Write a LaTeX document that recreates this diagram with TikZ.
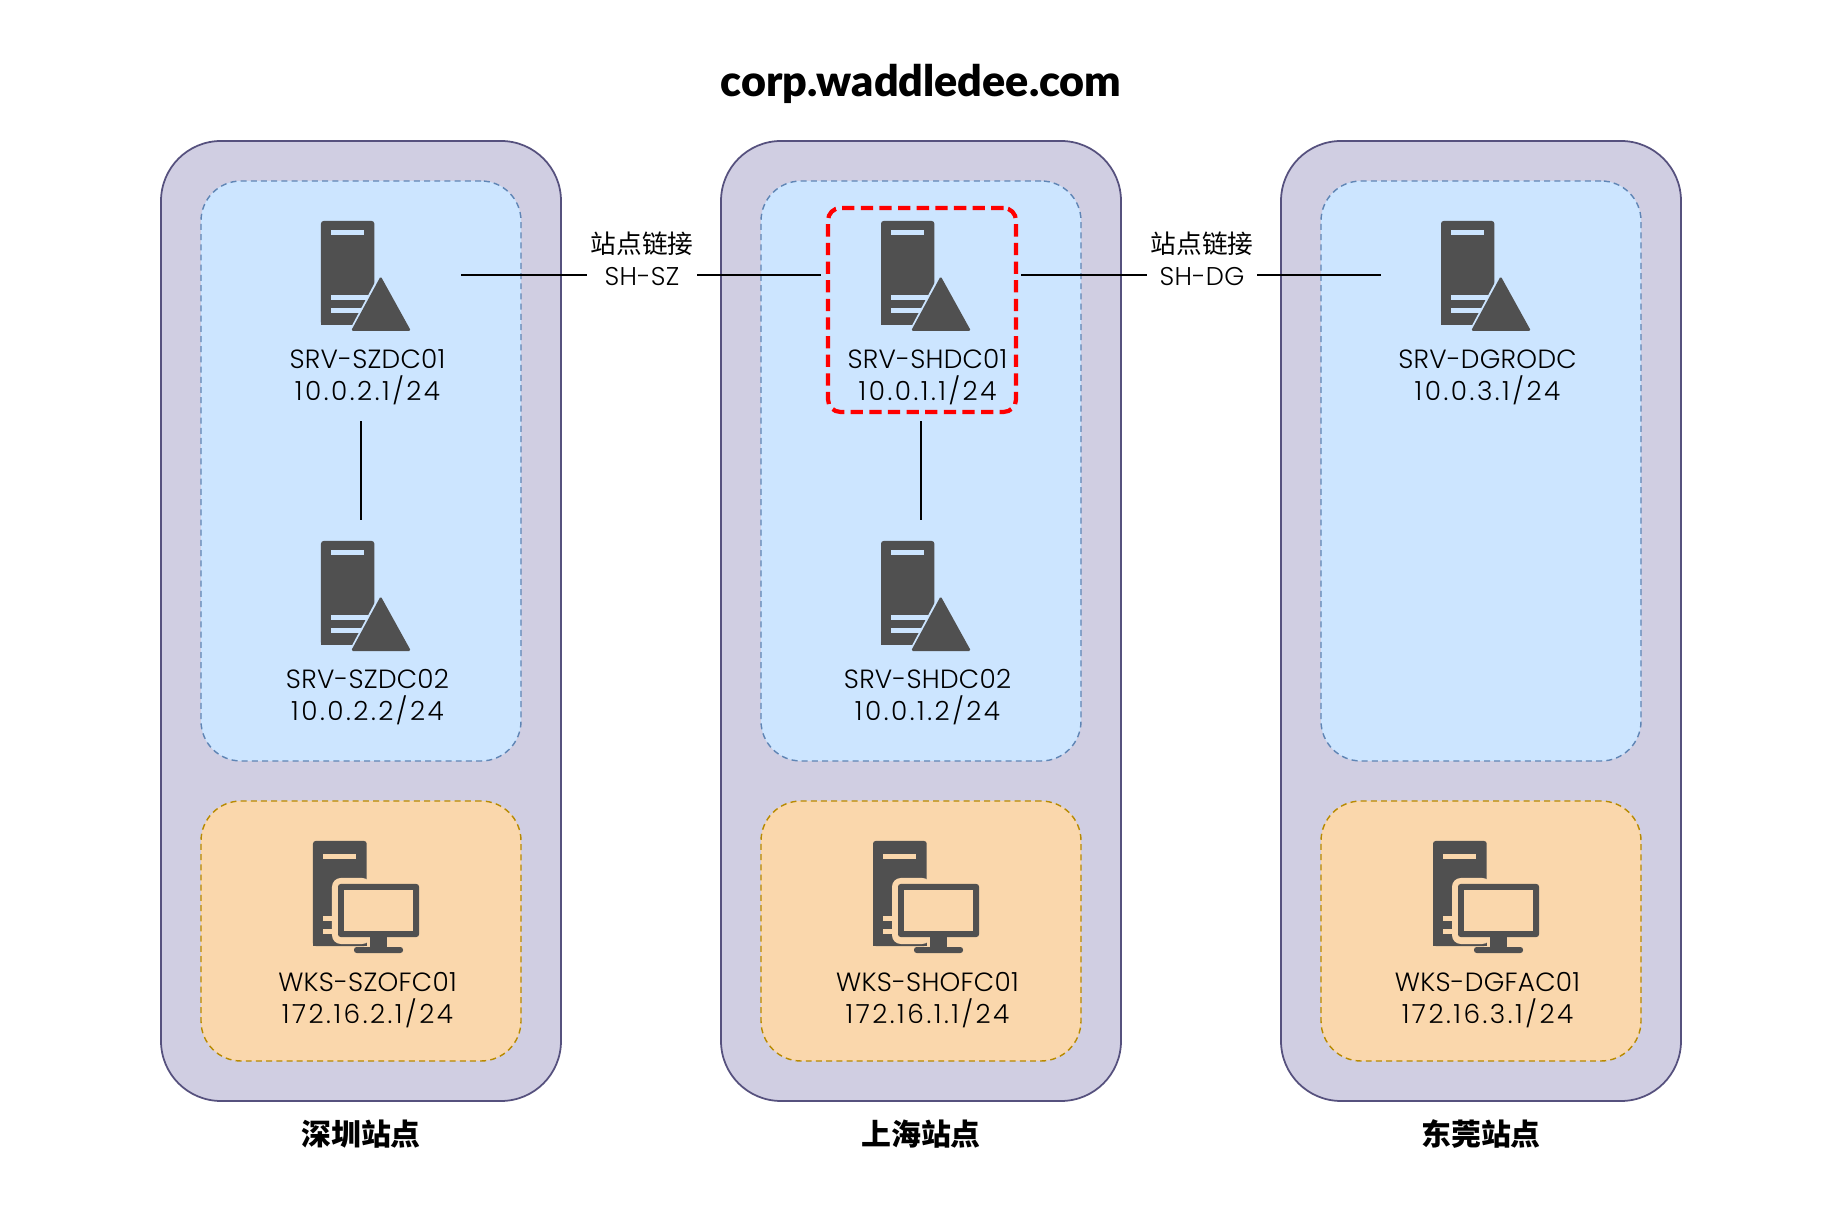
\documentclass[tikz,border=0pt]{standalone}
\usepackage{fontspec}
\setmainfont{Poppins Light}[LetterSpace=1]
\newfontfamily\ipfont{Poppins Light}[LetterSpace=9.5]
\newfontfamily\cjk{Noto Sans CJK SC}
\newfontfamily\titlefont{Lato Black}
\usetikzlibrary{positioning}
\definecolor{siteFill}{HTML}{D0CEE2}
\definecolor{siteLine}{HTML}{56517E}
\definecolor{srvFill}{HTML}{CCE5FF}
\definecolor{srvLine}{HTML}{5F85B5}
\definecolor{wksFill}{HTML}{FAD7AC}
\definecolor{wksLine}{HTML}{B88A00}
\definecolor{iconGrey}{HTML}{505050}
\tikzset{
servericon/.pic={
\begin{scope}[x=.02cm,y=.02cm]
\fill[iconGrey,rounded corners=1.5pt] (-40,54) rectangle (13.3,-50);
\fill[iconGrey] (-40,-40) rectangle (13,-50);
\fill[srvFill] (-30,45) rectangle (3,40);
\fill[srvFill] (-30,-20) rectangle (10,-25);
\fill[srvFill] (-30,-33) rectangle (10,-38);
\draw[srvFill,line width=3.4pt,line join=round,fill=srvFill] (19.7,-3) -- (-8,-55) -- (47,-55) -- cycle;
\fill[iconGrey,rounded corners=1pt] (19.7,-1.2) -- (-10,-56) -- (50,-56) -- cycle;
\end{scope}
},
wksicon/.pic={
\begin{scope}[x=.02cm,y=.02cm]
\fill[iconGrey,rounded corners=1.5pt] (-48,56) rectangle (5.7,-49);
\fill[iconGrey] (-48,-30) rectangle (5.7,-49);
\fill[wksFill] (-38,43) rectangle (-5,38);
\fill[wksFill] (-38,-19) rectangle (-20,-24);
\fill[wksFill] (-38,-32) rectangle (-20,-37);
\fill[wksFill,rounded corners=5pt] (-29,19) rectangle (10,-47);
\fill[iconGrey,rounded corners=1.5pt] (-23,13) rectangle (58,-40);
\fill[wksFill] (-17,7) rectangle (52,-34);
\fill[iconGrey] (9,-40) rectangle (26,-52);
\fill[iconGrey,rounded corners=1.5pt] (-7,-50) rectangle (42,-56);
\end{scope}
}}
\begin{document}
\begin{tikzpicture}[font=\fontsize{15}{18.2}\selectfont,
sitebox/.style={draw=siteLine,fill=siteFill,line width=1pt,rounded corners=1.2cm,minimum width=8cm,minimum height=19.2cm,inner sep=0pt},
zone/.style={rounded corners=.8cm,minimum width=6.4cm,line width=.8pt,dash pattern=on 3.4pt off 2.4pt,inner sep=0pt},
srvzone/.style={zone,draw=srvLine,fill=srvFill,minimum height=11.6cm},
wkszone/.style={zone,draw=wksLine,fill=wksFill,minimum height=5.2cm},
hostbox/.style={minimum width=4cm,minimum height=3cm,inner sep=0pt},
hostlabel/.style={align=center,minimum height=1.74cm,inner sep=0pt},
sitelabel/.style={font=\cjk\bfseries\fontsize{17}{20}\selectfont,inner sep=0pt},
linklabel/.style={font=\fontsize{14.6}{18.2}\selectfont,fill=white,align=center,yshift=.32cm,xshift=.02cm,inner xsep=2pt,inner ysep=0pt},
link/.style={draw=black,line width=1pt}]
\useasboundingbox (0,0) rectangle (36.84,24.6);
\node[font=\titlefont\fontsize{24.5}{28}\selectfont,inner sep=0pt] (title) at (18.42,22.92) {corp.waddledee.com};
% sites
\node[sitebox] (siteSZ) at (7.22,12.18) {};
\node[sitebox] (siteSH) at (18.42,12.18) {};
\node[sitebox] (siteDG) at (29.62,12.18) {};
\node[srvzone] (zoneSZ) at (7.22,15.18) {};
\node[srvzone] (zoneSH) at (18.42,15.18) {};
\node[srvzone] (zoneDG) at (29.62,15.18) {};
\node[wkszone] (officeSZ) at (7.22,5.98) {};
\node[wkszone] (officeSH) at (18.42,5.98) {};
\node[wkszone] (officeDG) at (29.62,5.98) {};
\node[sitelabel] (nameSZ) at (7.22,1.92) {深圳站点};
\node[sitelabel] (nameSH) at (18.42,1.92) {上海站点};
\node[sitelabel] (nameDG) at (29.62,1.92) {东莞站点};
% servers
\node[hostbox] (dcSZ1) at (7.22,19.1) {};
\node[hostbox] (dcSZ2) at (7.22,12.7) {};
\node[hostbox] (dcSH1) at (18.42,19.1) {};
\node[hostbox] (dcSH2) at (18.42,12.7) {};
\node[hostbox] (dcDG1) at (29.62,19.1) {};
\pic at (dcSZ1) {servericon};
\pic at (dcSZ2) {servericon};
\pic at (dcSH1) {servericon};
\pic at (dcSH2) {servericon};
\pic at (dcDG1) {servericon};
\node[hostlabel] (ipSZ1) at (7.35,17.05) {SRV-SZDC01\\{\ipfont 10.0.2.1/24}};
\node[hostlabel] (ipSZ2) at (7.35,10.65) {SRV-SZDC02\\{\ipfont 10.0.2.2/24}};
\node[hostlabel] (ipSH1) at (18.55,17.05) {SRV-SHDC01\\{\ipfont 10.0.1.1/24}};
\node[hostlabel] (ipSH2) at (18.55,10.65) {SRV-SHDC02\\{\ipfont 10.0.1.2/24}};
\node[hostlabel] (ipDG1) at (29.75,17.05) {SRV-DGRODC\\{\ipfont 10.0.3.1/24}};
\node[draw=red,line width=2.4pt,dash pattern=on 7pt off 3.6pt,rounded corners=.25cm,minimum width=3.76cm,minimum height=4.08cm,inner sep=0pt] (pdc) at (18.44,18.4) {};
% workstations
\node[hostbox] (pcSZ) at (7.22,6.66) {};
\node[hostbox] (pcSH) at (18.42,6.66) {};
\node[hostbox] (pcDG) at (29.62,6.66) {};
\pic at (pcSZ) {wksicon};
\pic at (pcSH) {wksicon};
\pic at (pcDG) {wksicon};
\node[hostlabel] (ipPcSZ) at (7.35,4.6) {WKS-SZOFC01\\{\ipfont 172.16.2.1/24}};
\node[hostlabel] (ipPcSH) at (18.55,4.6) {WKS-SHOFC01\\{\ipfont 172.16.1.1/24}};
\node[hostlabel] (ipPcDG) at (29.75,4.6) {WKS-DGFAC01\\{\ipfont 172.16.3.1/24}};
% links
\draw[link] (dcSZ1)--node[linklabel] (linkSZ) {{\cjk 站点链接}\\SH-SZ}(dcSH1);
\draw[link] (dcSH1)--node[linklabel] (linkDG) {{\cjk 站点链接}\\SH-DG}(dcDG1);
\draw[link] (ipSZ1.south -| dcSZ1)--(dcSZ2.north);
\draw[link] (ipSH1.south -| dcSH1)--(dcSH2.north);
\end{tikzpicture}
\end{document}
